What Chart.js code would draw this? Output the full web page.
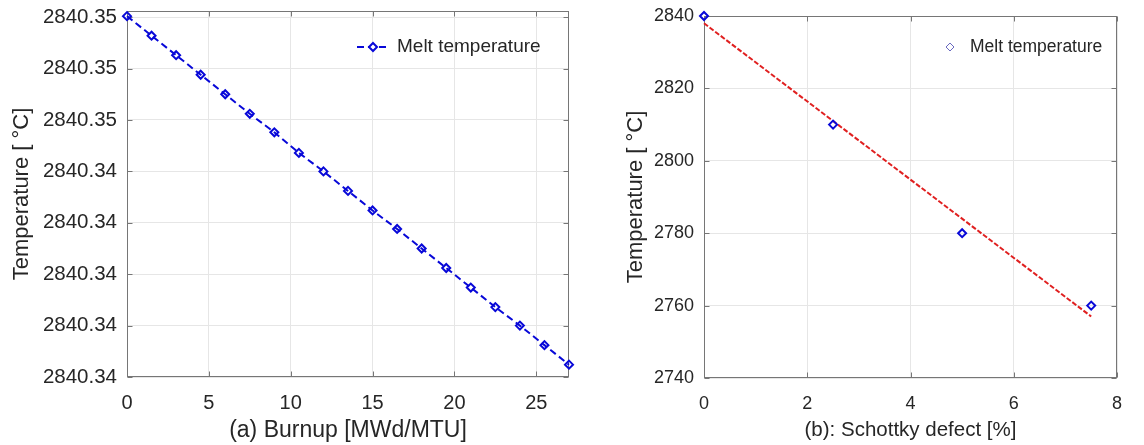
<!DOCTYPE html>
<html>
<head>
<meta charset="utf-8">
<script src="https://cdn.jsdelivr.net/npm/chart.js@4.4.1/dist/chart.umd.min.js"></script>
<style>
  body { margin: 0; background: #fff; }
  #wrapA { position: absolute; left: 0; top: 0; }
  #wrapB { position: absolute; left: 590px; top: 0; }
</style>
</head>
<body>
<div id="wrapA"><canvas id="burnupChart" width="600" height="445"></canvas></div>
<div id="wrapB"><canvas id="schottkyChart" width="554" height="445"></canvas></div>
<script>
// (a) melt temperature vs burnup
const burnup = [0, 1.5, 3, 4.5, 6, 7.5, 9, 10.5, 12, 13.5, 15, 16.5, 18, 19.5, 21, 22.5, 24, 25.5, 27];
const meltBurnup = [2840.34601, 2840.34582, 2840.34563, 2840.34544, 2840.34525, 2840.34506, 2840.34488,
    2840.34468, 2840.34450, 2840.34431, 2840.34412, 2840.34394, 2840.34375, 2840.34356, 2840.34337,
    2840.34318, 2840.34300, 2840.34281, 2840.34262];
const burnupTicks = [0, 5, 10, 15, 20, 25];
const tempTicksA = [2840.3425, 2840.3430, 2840.3435, 2840.3440, 2840.3445, 2840.3450, 2840.3455, 2840.3460];
const tempLabelsA = ['2840.34', '2840.34', '2840.34', '2840.34', '2840.34', '2840.35', '2840.35', '2840.35'];

// (b) melt temperature vs Schottky defect
const schottky = [0, 2.5, 5, 7.5];
const meltSchottky = [2840, 2810, 2780, 2760];
const fitX = [0, 7.5];
const fitY = [2838, 2757];
const schottkyTicks = [0, 2, 4, 6, 8];
const tempTicksB = [2740, 2760, 2780, 2800, 2820, 2840];

const FONT = "'Liberation Sans', Arial, Helvetica, sans-serif";
const TXT = '#262626';
const FRAME = '#767676';
const GRID = '#e6e6e6';
const BLUE = '#0808d8';

// caja de ejes estilo MATLAB con marcas hacia adentro
const framePlugin = {
    id: 'frame',
    beforeDatasetsDraw(chart) {
        const { ctx, chartArea: a, scales } = chart;
        const l = Math.round(a.left) + 0.5, r = Math.round(a.right) - 0.5;
        const t = Math.round(a.top) + 0.5, b = Math.round(a.bottom) - 0.5;
        ctx.save();
        ctx.strokeStyle = FRAME;
        ctx.lineWidth = 1;
        ctx.strokeRect(l, t, r - l, b - t);
        ctx.beginPath();
        scales.x.ticks.forEach(tk => {
            const px = Math.round(scales.x.getPixelForValue(tk.value)) + 0.5;
            ctx.moveTo(px, b); ctx.lineTo(px, b - 5);
            ctx.moveTo(px, t); ctx.lineTo(px, t + 5);
        });
        scales.y.ticks.forEach(tk => {
            const py = Math.round(scales.y.getPixelForValue(tk.value)) + 0.5;
            ctx.moveTo(l, py); ctx.lineTo(l + 5, py);
            ctx.moveTo(r, py); ctx.lineTo(r - 5, py);
        });
        ctx.stroke();
        ctx.restore();
    }
};

// leyenda dentro del area, sin caja
const legendPlugin = {
    id: 'insideLegend',
    afterDatasetsDraw(chart, args, opts) {
        const { ctx, chartArea: a } = chart;
        const y = a.top + opts.dy;
        const x = opts.x;
        ctx.save();
        if (opts.line) {
            ctx.strokeStyle = BLUE;
            ctx.lineWidth = 2;
            ctx.setLineDash([7, 4]);
            ctx.beginPath();
            ctx.moveTo(x - 16, y);
            ctx.lineTo(x + 17, y);
            ctx.stroke();
            ctx.setLineDash([]);
        }
        ctx.strokeStyle = opts.markerColor;
        ctx.fillStyle = '#ffffff';
        ctx.lineWidth = opts.markerWidth;
        Chart.helpers.drawPoint(ctx, { pointStyle: 'rectRot', radius: 4, rotation: 0, borderWidth: opts.markerWidth }, x, y);
        ctx.fillStyle = TXT;
        ctx.font = opts.fontSize + 'px ' + FONT;
        ctx.textBaseline = 'middle';
        ctx.textAlign = 'left';
        ctx.fillText('Melt temperature', opts.textX, y);
        ctx.restore();
    }
};

function fixedTicks(values) {
    return scale => { scale.ticks = values.map(v => ({ value: v })); };
}

// tamaño fijo de los ejes, sin margen extra por las etiquetas
function sizeY(w) {
    return s => { s.width = w; s.paddingTop = 0; s.paddingBottom = 0; };
}
function sizeX(h) {
    return s => { s.height = h; s.paddingLeft = 0; s.paddingRight = 0; };
}

new Chart(document.getElementById('burnupChart'), {
    type: 'scatter',
    data: {
        datasets: [{
            label: 'Melt temperature',
            data: burnup.map((x, i) => ({ x, y: meltBurnup[i] })),
            showLine: true,
            borderColor: BLUE,
            borderWidth: 2,
            borderDash: [7, 4],
            pointStyle: 'rectRot',
            pointRadius: 4,
            pointBorderWidth: 2,
            pointBorderColor: BLUE,
            pointBackgroundColor: 'rgba(255,255,255,0)',
            clip: false
        }]
    },
    options: {
        responsive: false,
        animation: false,
        layout: { padding: { top: 11, right: 31, left: 0, bottom: 0 } },
        plugins: {
            legend: { display: false },
            tooltip: { enabled: false },
            insideLegend: { x: 373, dy: 36, textX: 397, fontSize: 19, line: true, markerColor: BLUE, markerWidth: 2 }
        },
        scales: {
            x: {
                type: 'linear', min: 0, max: 27,
                afterBuildTicks: fixedTicks(burnupTicks),
                afterFit: sizeX(68),
                grid: { color: GRID, drawTicks: false },
                border: { display: false },
                ticks: { padding: 14, color: TXT, font: { family: FONT, size: 20 } },
                title: { display: true, text: '(a) Burnup [MWd/MTU]', color: TXT, font: { family: FONT, size: 23 }, padding: { top: 0, bottom: 1 } }
            },
            y: {
                type: 'linear', min: 2840.3425, max: 2840.34606,
                afterBuildTicks: fixedTicks(tempTicksA),
                afterFit: sizeY(127),
                grid: { color: GRID, drawTicks: false },
                border: { display: false },
                ticks: { padding: 10, color: TXT, font: { family: FONT, size: 20.5 }, callback: (v, i) => tempLabelsA[i] },
                title: { display: true, text: 'Temperature [ °C]', color: TXT, font: { family: FONT, size: 22 }, padding: { top: 9, bottom: 0 } }
            }
        }
    },
    plugins: [framePlugin, legendPlugin]
});

new Chart(document.getElementById('schottkyChart'), {
    type: 'scatter',
    data: {
        datasets: [{
            label: 'Melt temperature',
            data: schottky.map((x, i) => ({ x, y: meltSchottky[i] })),
            pointStyle: 'rectRot',
            pointRadius: 4,
            pointBorderWidth: 2,
            pointBorderColor: BLUE,
            pointBackgroundColor: 'rgba(255,255,255,0)',
            clip: false
        }, {
            label: 'Fit',
            data: fitX.map((x, i) => ({ x, y: fitY[i] })),
            showLine: true,
            borderColor: '#e02020',
            borderWidth: 2,
            borderDash: [5, 2],
            pointRadius: 0,
            clip: false
        }]
    },
    options: {
        responsive: false,
        animation: false,
        layout: { padding: { top: 16, right: 27, left: 0, bottom: 0 } },
        plugins: {
            legend: { display: false },
            tooltip: { enabled: false },
            insideLegend: { x: 360, dy: 31, textX: 380, fontSize: 17.5, line: false, markerColor: '#6a6ac0', markerWidth: 1 }
        },
        scales: {
            x: {
                type: 'linear', min: 0, max: 8,
                afterBuildTicks: fixedTicks(schottkyTicks),
                afterFit: sizeX(67),
                grid: { color: GRID, drawTicks: false },
                border: { display: false },
                ticks: { padding: 15, color: TXT, font: { family: FONT, size: 18 } },
                title: { display: true, text: '(b): Schottky defect [%]', color: TXT, font: { family: FONT, size: 20.5 }, padding: { top: 0, bottom: 2 } }
            },
            y: {
                type: 'linear', min: 2740, max: 2840,
                afterBuildTicks: fixedTicks(tempTicksB),
                afterFit: sizeY(114),
                grid: { color: GRID, drawTicks: false },
                border: { display: false },
                ticks: { padding: 10, color: TXT, font: { family: FONT, size: 18 }, callback: v => String(v) },
                title: { display: true, text: 'Temperature [ °C]', color: TXT, font: { family: FONT, size: 22 }, padding: { top: 33, bottom: 0 } }
            }
        }
    },
    plugins: [framePlugin, legendPlugin]
});
</script>
</body>
</html>
